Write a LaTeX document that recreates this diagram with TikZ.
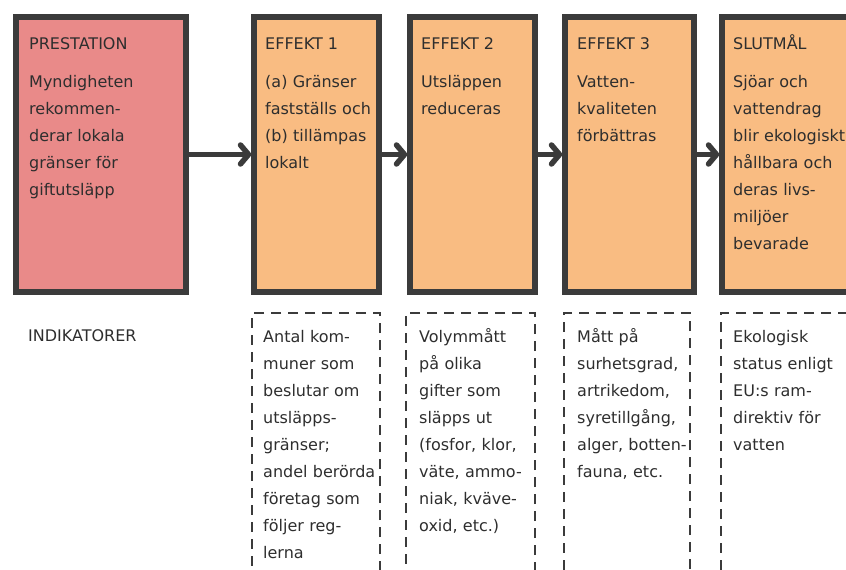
\documentclass[tikz,border=0pt]{standalone}
\usepackage{fontspec}
\setmainfont{DejaVu Sans}
\usetikzlibrary{arrows.meta}
\definecolor{ram}{HTML}{3B3B3B}
\definecolor{rosa}{HTML}{E98A89}
\definecolor{ljusorange}{HTML}{F9BC82}
\definecolor{textgra}{HTML}{2E2E2E}
\begin{document}
\begin{tikzpicture}[x=1pt, y=-1pt,
		ruta/.style={draw=ram, line width=5.5pt, rectangle, minimum height=275pt, inner sep=0pt},
		indruta/.style={draw=ram, line width=2.6pt, dash pattern=on 10pt off 7pt, rectangle, minimum height=300pt, inner sep=0pt},
		rubrik/.style={anchor=base west, inner sep=0pt, text=textgra, font=\fontsize{16}{27}\selectfont},
		brodtext/.style={anchor=base west, inner sep=0pt, text=textgra, text width=135pt, align=left, font=\fontsize{16}{27}\selectfont},
		pil/.style={draw=ram, line width=5.5pt, line cap=round, -{Straight Barb[length=8pt, width=19pt, line cap=round, line join=round]}}]
		\useasboundingbox ( 0, 0 ) rectangle ( 846, 570 );
		\clip ( 0, 0 ) rectangle ( 846, 570 );

		% rutor
		\node [ruta, fill=rosa, minimum width=170pt] (prest) at ( 101, 154.5 ) {};
		\node [ruta, fill=ljusorange, minimum width=125pt] (eff1) at ( 316.5, 154.5 ) {};
		\node [ruta, fill=ljusorange, minimum width=125pt] (eff2) at ( 472.5, 154.5 ) {};
		\node [ruta, fill=ljusorange, minimum width=129pt] (eff3) at ( 629.5, 154.5 ) {};
		\node [ruta, fill=ljusorange, minimum width=150pt] (slut) at ( 797, 154.5 ) {};

		% pilar
		\draw [pil] (prest) -- (eff1);
		\draw [pil] (eff1) -- (eff2);
		\draw [pil] (eff2) -- (eff3);
		\draw [pil] (eff3) -- (slut);

		% prestation
		\node [rubrik] (prest-rub) at ( 29, 49 ) {PRESTATION};
		\node [brodtext] (prest-txt) at ( 29, 87 ) {Myndigheten\\rekommen-\\derar lokala\\gränser för\\giftutsläpp};

		% effekt 1
		\node [rubrik] (eff1-rub) at ( 265, 49 ) {EFFEKT 1};
		\node [brodtext] (eff1-txt) at ( 265, 87 ) {(a) Gränser\\fastställs och\\(b) tillämpas\\lokalt};

		% effekt 2
		\node [rubrik] (eff2-rub) at ( 421, 49 ) {EFFEKT 2};
		\node [brodtext] (eff2-txt) at ( 421, 87 ) {Utsläppen\\reduceras};

		% effekt 3
		\node [rubrik] (eff3-rub) at ( 577, 49 ) {EFFEKT 3};
		\node [brodtext] (eff3-txt) at ( 577, 87 ) {Vatten-\\kvaliteten\\förbättras};

		% slutmål
		\node [rubrik] (slut-rub) at ( 733, 49 ) {SLUTMÅL};
		\node [brodtext] (slut-txt) at ( 733, 87 ) {Sjöar och\\vattendrag\\blir ekologiskt\\hållbara och\\deras livs-\\miljöer\\bevarade};

		% indikatorer
		\node [rubrik] (indik) at ( 28, 341 ) {INDIKATORER};
		\node [indruta, minimum width=128pt] (ind1) at ( 316, 463 ) {};
		\node [indruta, minimum width=129pt] (ind2) at ( 470.5, 463 ) {};
		\node [indruta, minimum width=126pt] (ind3) at ( 627, 463 ) {};
		\node [indruta, minimum width=160pt] (ind4) at ( 801, 463 ) {};
		\node [brodtext] (ind1-txt) at ( 263, 342 ) {Antal kom-\\muner som\\beslutar om\\utsläpps-\\gränser;\\andel berörda\\företag som\\följer reg-\\lerna};
		\node [brodtext] (ind2-txt) at ( 419, 342 ) {Volymmått\\på olika\\gifter som\\släpps ut\\(fosfor, klor,\\väte, ammo-\\niak, kväve-\\oxid, etc.)};
		\node [brodtext] (ind3-txt) at ( 577, 342 ) {Mått på\\surhetsgrad,\\artrikedom,\\syretillgång,\\alger, botten-\\fauna, etc.};
		\node [brodtext] (ind4-txt) at ( 733, 342 ) {Ekologisk\\status enligt\\EU:s ram-\\direktiv för\\vatten};
	\end{tikzpicture}
\end{document}
